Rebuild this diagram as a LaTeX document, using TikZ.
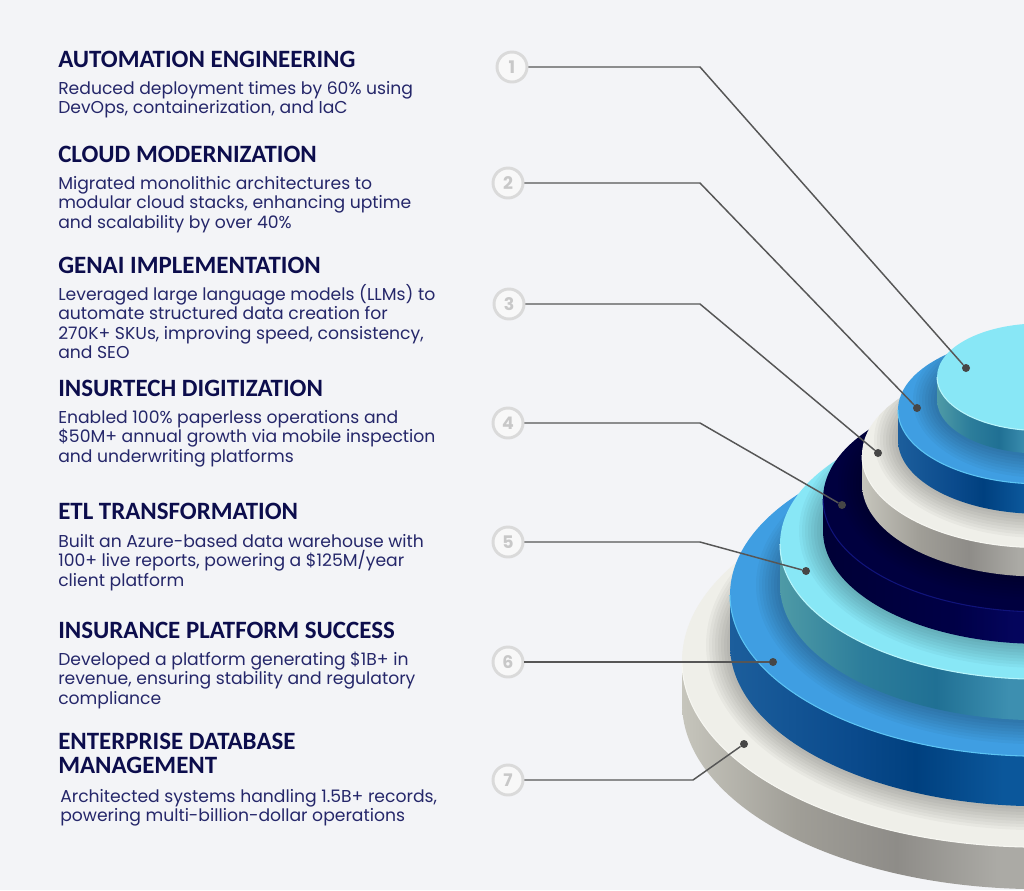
\documentclass[tikz,border=0pt]{standalone}
\usepackage{fontspec}
\setmainfont{Poppins}
\newfontfamily\headfont{Carlito}
\definecolor{bgpage}{HTML}{F3F4F7}
\definecolor{headnavy}{HTML}{0C0D4C}
\definecolor{bodynavy}{HTML}{25276A}
\definecolor{leadgray}{HTML}{565656}
\definecolor{pingray}{HTML}{464646}
\definecolor{ringgray}{HTML}{DADADA}
\definecolor{ringfill}{HTML}{F8F8F8}
\definecolor{numgray}{HTML}{C8C8C8}
\definecolor{facegrey}{HTML}{EFEFE9}
\definecolor{faceblue}{HTML}{3F9EE2}
\definecolor{facecyan}{HTML}{88E7F6}
\definecolor{facenavy}{HTML}{00003F}
\definecolor{rimgrey}{HTML}{F7F7F2}
\definecolor{rimblue}{HTML}{5CC4F4}
\definecolor{rimcyan}{HTML}{B8F6FC}
\definecolor{rimnavy}{HTML}{10137A}
\definecolor{sgA}{HTML}{C6C5BC}
\definecolor{sgB}{HTML}{A09E97}
\definecolor{sgC}{HTML}{8E8C88}
\definecolor{sgD}{HTML}{ABAAA5}
\definecolor{sbA}{HTML}{1C5E9C}
\definecolor{sbB}{HTML}{0A4A8C}
\definecolor{sbC}{HTML}{00407F}
\definecolor{sbD}{HTML}{0B579B}
\definecolor{scA}{HTML}{4E9AA6}
\definecolor{scB}{HTML}{2C7D9B}
\definecolor{scC}{HTML}{207094}
\definecolor{scD}{HTML}{3D8FB0}
\definecolor{snA}{HTML}{000036}
\definecolor{snC}{HTML}{000046}
\definecolor{snD}{HTML}{04055C}
% side shadings: the path box spans 25bp..75bp
\pgfdeclarehorizontalshading{sidegrey}{100bp}{color(0bp)=(sgA); color(25bp)=(sgA); color(33bp)=(sgB); color(40bp)=(sgC); color(47bp)=(sgD); color(100bp)=(sgD)}
\pgfdeclarehorizontalshading{sideblue}{100bp}{color(0bp)=(sbA); color(25bp)=(sbA); color(35bp)=(sbB); color(40bp)=(sbC); color(47bp)=(sbD); color(100bp)=(sbD)}
\pgfdeclarehorizontalshading{sidecyan}{100bp}{color(0bp)=(scA); color(25bp)=(scA); color(33bp)=(scB); color(40bp)=(scC); color(47bp)=(scD); color(100bp)=(scD)}
\pgfdeclarehorizontalshading{sidenavy}{100bp}{color(0bp)=(snA); color(25bp)=(snA); color(40bp)=(snC); color(47bp)=(snD); color(100bp)=(snD)}

\begin{document}
\begin{tikzpicture}[x=0.75pt,y=-0.75pt,
  headline/.style={anchor=base west,inner sep=0,text=headnavy,font=\headfont\bfseries\fontsize{18.7}{17.3}\selectfont,align=left},
  bodytext/.style={anchor=base west,inner sep=0,text=bodynavy,font=\fontsize{12.9}{14.6}\selectfont,align=left},
  numring/.style={circle,draw=ringgray,line width=2.2pt,fill=ringfill,minimum size=22.5pt,inner sep=0,text=numgray,font=\bfseries\fontsize{13}{13}\selectfont},
  pin/.style={circle,fill=pingray,inner sep=0,minimum size=6pt},
  leader/.style={draw=leadgray,line width=1.1pt}]
    \fill[bgpage] (0,0) rectangle (1024,890);
    \useasboundingbox (0,0) rectangle (1024,890);
    \pgfmathsetmacro{\pyrcx}{1040}
    % stacked discs, from the base up
    \begin{scope}
    \clip (0,0) rectangle (1024,890);
    \foreach \cy/\rx/\h/\tone [count=\k] in {661/358/42/grey,595/310/50/blue,544/260/41/cyan,499/217/32/navy,455/178/29/grey,410/142/30/blue,377/103/23/cyan}{
        \pgfmathsetmacro{\ry}{0.52*\rx}
        \ifnum\k>1
        % soft shadow on the face below
        \begin{scope}
            \clip (\pyrcx,\lowcy) ellipse[x radius=0.75pt*\lowrx,y radius=0.75pt*\lowry];
            \foreach \s in {1,...,8}
                \fill[black,opacity=0.03] (\pyrcx,\cy+\h) ellipse[x radius=0.75pt*(\rx+3*\s),y radius=0.75pt*(\ry+3*\s)];
        \end{scope}
        \fi
        \shade[shading=side\tone] (\pyrcx-\rx,\cy) -- (\pyrcx-\rx,\cy+\h)
            arc[start angle=180,end angle=360,x radius=0.75pt*\rx,y radius=0.75pt*\ry]
            -- (\pyrcx+\rx,\cy)
            arc[start angle=360,end angle=180,x radius=0.75pt*\rx,y radius=0.75pt*\ry] -- cycle;
        \fill[face\tone] (\pyrcx,\cy) ellipse[x radius=0.75pt*\rx,y radius=0.75pt*\ry];
        \draw[rim\tone,line width=0.8pt] (\pyrcx-\rx,\cy) arc[start angle=180,end angle=360,x radius=0.75pt*\rx,y radius=0.75pt*\ry];
        \xdef\lowcy{\cy}\xdef\lowrx{\rx}\xdef\lowry{\ry}
    }
    \end{scope}

    % texts (a node with several lines sits on its last baseline)
    \node[headline] (h1) at (58,67) {AUTOMATION ENGINEERING};
    \node[bodytext] (b1) at (58,113.5) {Reduced deployment times by 60\% using\\DevOps, containerization, and IaC};
    \node[headline] (h2) at (58,162) {CLOUD MODERNIZATION};
    \node[bodytext] (b2) at (58,228) {Migrated monolithic architectures to\\modular cloud stacks, enhancing uptime\\and scalability by over 40\%};
    \node[headline] (h3) at (58,273) {GENAI IMPLEMENTATION};
    \node[bodytext] (b3) at (58,358.5) {Leveraged large language models (LLMs) to\\automate structured data creation for\\270K+ SKUs, improving speed, consistency,\\and SEO};
    \node[headline] (h4) at (58,396) {INSURTECH DIGITIZATION};
    \node[bodytext] (b4) at (58,462) {Enabled 100\% paperless operations and\\\$50M+ annual growth via mobile inspection\\and underwriting platforms};
    \node[headline] (h5) at (58,519) {ETL TRANSFORMATION};
    \node[bodytext] (b5) at (58,586) {Built an Azure-based data warehouse with\\100+ live reports, powering a \$125M/year\\client platform};
    \node[headline] (h6) at (58,638) {INSURANCE PLATFORM SUCCESS};
    \node[bodytext] (b6) at (58,704) {Developed a platform generating \$1B+ in\\revenue, ensuring stability and regulatory\\compliance};
    \node[headline] (h7) at (58,773) {ENTERPRISE DATABASE\\MANAGEMENT};
    \node[bodytext] (b7) at (60,821.5) {Architected systems handling 1.5B+ records,\\powering multi-billion-dollar operations};

    % numbered rings and their leaders
    \node[numring] (n1) at (512,67) {1};
    \node[numring] (n2) at (508,183) {2};
    \node[numring] (n3) at (509,304) {3};
    \node[numring] (n4) at (508,423) {4};
    \node[numring] (n5) at (508,542) {5};
    \node[numring] (n6) at (508,662) {6};
    \node[numring] (n7) at (508,780) {7};
    \node[pin] (p1) at (966,368) {};
    \node[pin] (p2) at (917,408) {};
    \node[pin] (p3) at (878,453) {};
    \node[pin] (p4) at (842,505) {};
    \node[pin] (p5) at (806,571) {};
    \node[pin] (p6) at (773,662) {};
    \node[pin] (p7) at (744,744) {};
    \coordinate (k1) at (700,67);
    \coordinate (k2) at (700,183);
    \coordinate (k3) at (700,304);
    \coordinate (k4) at (700,423);
    \coordinate (k5) at (700,542);
    \coordinate (k7) at (693,780);
    \draw[leader] (n1) -- (k1) -- (p1);
    \draw[leader] (n2) -- (k2) -- (p2);
    \draw[leader] (n3) -- (k3) -- (p3);
    \draw[leader] (n4) -- (k4) -- (p4);
    \draw[leader] (n5) -- (k5) -- (p5);
    \draw[leader] (n6) -- (p6);
    \draw[leader] (n7) -- (k7) -- (p7);
\end{tikzpicture}
\end{document}
